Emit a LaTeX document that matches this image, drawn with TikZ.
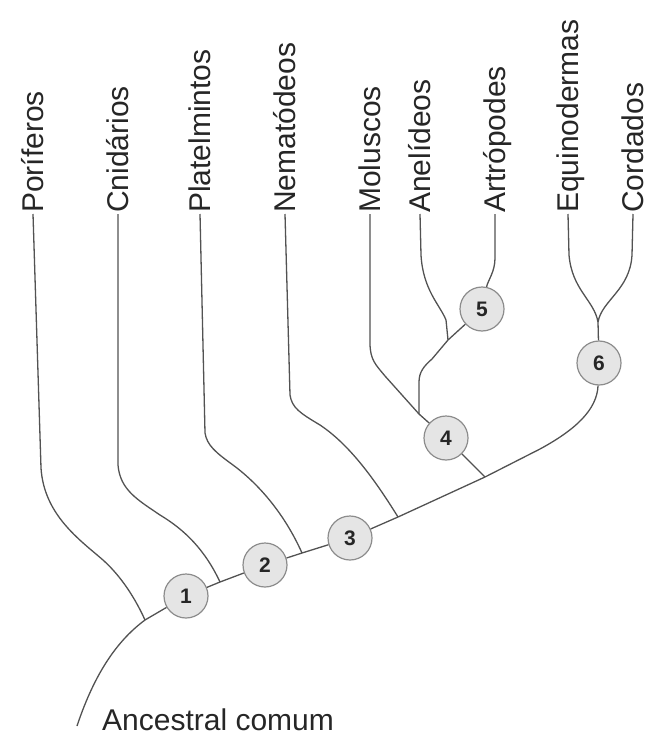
\documentclass[tikz,border=0pt]{standalone}
\usepackage{fontspec}
\setmainfont{Liberation Sans}
\begin{document}
\begin{tikzpicture}[x=1pt,y=-1pt,
  branch/.style={draw=black!68,line width=1.3pt},
  lab/.style={rotate=90,anchor=base west,inner sep=0pt,text=black!85,font=\fontsize{30}{36}\selectfont},
  num/.style={circle,draw=black!45,fill=black!10,line width=1.2pt,minimum size=44pt,inner sep=0pt,font=\bfseries\fontsize{21}{24}\selectfont,text=black!85}]
\useasboundingbox (0,0) rectangle (658,746);
% labels (baseline 10pt right of the branch line)
\node[lab] (por) at (43,213) {Poríferos};
\node[lab] (cni) at (128,213) {Cnidários};
\node[lab] (pla) at (210,213) {Platelmintos};
\node[lab] (nem) at (295,213) {Nematódeos};
\node[lab] (mol) at (380,213) {Moluscos};
\node[lab] (ane) at (430,213) {Anelídeos};
\node[lab] (art) at (505,213) {Artrópodes};
\node[lab] (equ) at (578,213) {Equinodermas};
\node[lab] (cor) at (643,213) {Cordados};
\node[anchor=base west,inner sep=0pt,text=black!85,font=\fontsize{30}{36}\selectfont] (anc) at (102,730) {Ancestral comum};
% numbered nodes
\node[num] (n1) at (186,596) {1};
\node[num] (n2) at (265,565) {2};
\node[num] (n3) at (350,538) {3};
\node[num] (n4) at (446,438) {4};
\node[num] (n5) at (482,309) {5};
\node[num] (n6) at (599,363) {6};
% junctions
\coordinate (root) at (77,726);
\coordinate (j1) at (145,620);
\coordinate (j2) at (220,582);
\coordinate (j3) at (302,553);
\coordinate (j4) at (398,517);
\coordinate (j5) at (485,477);
\coordinate (j6) at (448,340);
\coordinate (j7) at (419,414);
\coordinate (j8) at (598,322);
% trunk
\draw[branch] (root) .. controls (95,672) and (118,640) .. (j1) -- (n1);
\draw[branch] (n1) -- (j2) -- (n2);
\draw[branch] (n2) -- (j3) -- (n3);
\draw[branch] (n3) -- (j4) -- (j5) -- (540,449) .. controls (575,430) and (597,410) .. (n6);
\draw[branch] (n4) -- (j5);
% side branches
\draw[branch] ([xshift=-10pt,yshift=-1pt]por.base west) -- (41,468) .. controls (44,515) and (80,540) .. (103,560) .. controls (122,577) and (136,600) .. (j1);
\draw[branch] ([xshift=-10pt,yshift=-1pt]cni.base west) -- (118,465) .. controls (120,490) and (138,500) .. (160,515) .. controls (185,530) and (205,550) .. (j2);
\draw[branch] ([xshift=-10pt,yshift=-1pt]pla.base west) -- (205,433) .. controls (207,445) and (215,452) .. (233,465) .. controls (260,485) and (285,515) .. (j3);
\draw[branch] ([xshift=-10pt,yshift=-1pt]nem.base west) -- (290,395) .. controls (292,408) and (300,413) .. (320,425) .. controls (350,445) and (375,480) .. (j4);
% Moluscos, Anelideos, Artropodes
\draw[branch] ([xshift=-10pt,yshift=-1pt]mol.base west) -- (370,343) .. controls (370,360) and (376,365) .. (385,376) -- (j7) -- (n4);
\draw[branch] (j7) -- (419,382) .. controls (419,372) and (424,366) .. (432,359) -- (j6) -- (n5);
\draw[branch] ([xshift=-10pt,yshift=-1pt]ane.base west) -- (421,255) .. controls (423,290) and (440,305) .. (446,320) -- (j6);
\draw[branch] ([xshift=-10pt,yshift=-1pt]art.base west) -- (495,258) .. controls (495,272) and (488,280) .. (n5);
% Equinodermas, Cordados
\draw[branch] ([xshift=-10pt,yshift=-1pt]equ.base west) -- (569,255) .. controls (572,290) and (594,300) .. (j8);
\draw[branch] ([xshift=-10pt,yshift=-1pt]cor.base west) -- (632,255) .. controls (630,290) and (602,300) .. (j8);
\draw[branch] (j8) -- (n6);
\end{tikzpicture}
\end{document}
